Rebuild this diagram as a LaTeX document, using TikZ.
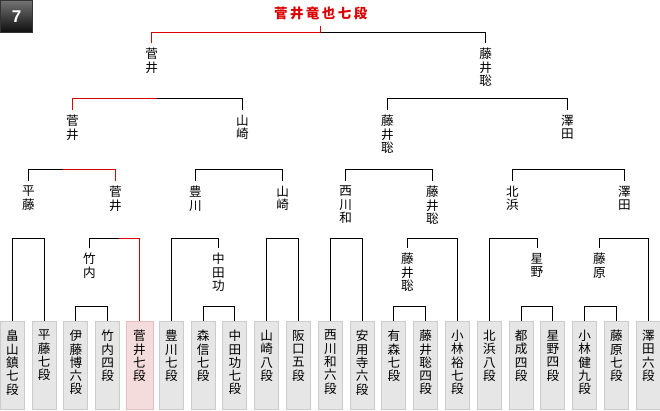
\documentclass[tikz,border=0pt]{standalone}
\usepackage{fontspec}
\newfontfamily\jpfont{Noto Sans CJK JP}
\newfontfamily\badgefont{Liberation Sans}
\usetikzlibrary{positioning, calc}

\definecolor{winred}{HTML}{DD0000}
\definecolor{boxgray}{HTML}{E6E6E6}
\definecolor{boxedge}{HTML}{CCCCCC}
\definecolor{winfill}{HTML}{F5DCDC}
\definecolor{winedge}{HTML}{E6BDBD}

\tikzset{
  bracket/.style={draw=black, line width=1pt},
  winpath/.style={draw=winred, line width=1pt},
  player/.style={draw=boxedge, fill=boxgray, line width=1pt, minimum width=24pt,
    minimum height=87.5pt, anchor=north, inner sep=0pt},
  winbox/.style={player, draw=winedge, fill=winfill, minimum width=27pt},
  vtext/.style={font=\jpfont\fontsize{12.6}{13.3}\selectfont, align=center,
    inner sep=0pt, anchor=north},
  lbl/.style={vtext, inner ysep=5pt},
  champ/.style={font=\jpfont\bfseries\fontsize{13.5}{14}\selectfont, text=winred,
    inner xsep=0pt, inner ysep=6pt},
  badge/.style={draw=black!80, line width=1pt, top color=black!55, bottom color=black!95,
    minimum size=32pt, inner sep=0pt, text=white,
    font=\badgefont\bfseries\fontsize{17}{17}\selectfont}
}

\begin{document}
\begin{tikzpicture}[x=1pt, y=-1pt]
  % Define dimensions
  \def\boxtop{321}
  \def\pitch{31.8}
  \useasboundingbox (0,0) rectangle (660,410);
  % Levels of the brackets
  \coordinate (lvA) at (0,306.3);
  \coordinate (lvB) at (0,238.3);
  \coordinate (lvC) at (0,169.3);
  \coordinate (lvD) at (0,98.3);
  \coordinate (lvE) at (0,32.3);

  % Round badge and winner
  \node[badge] (round) at (16.5,16.5) {7};
  \node[champ] (champ) at (320.7,13.5) {\addfontfeature{LetterSpace=18}菅井竜也七段};

  % Players at the bottom
  \foreach \nm/\sty [count=\i from 0] in {
      {畠\\山\\鎮\\七\\段}/player, {平\\藤\\七\\段}/player, {伊\\藤\\博\\六\\段}/player,
      {竹\\内\\四\\段}/player, {菅\\井\\七\\段}/winbox, {豊\\川\\七\\段}/player,
      {森\\信\\七\\段}/player, {中\\田\\功\\七\\段}/player, {山\\崎\\八\\段}/player,
      {阪\\口\\五\\段}/player, {西\\川\\和\\六\\段}/player, {安\\用\\寺\\六\\段}/player,
      {有\\森\\七\\段}/player, {藤\\井\\聡\\四\\段}/player, {小\\林\\裕\\七\\段}/player,
      {北\\浜\\八\\段}/player, {都\\成\\四\\段}/player, {星\\野\\四\\段}/player,
      {小\\林\\健\\九\\段}/player, {藤\\原\\七\\段}/player, {澤\\田\\六\\段}/player}
    {
      \node[\sty] (p\i) at ({12.3+\pitch*\i},\boxtop) {};
      \node[vtext] (t\i) at ([yshift=-9pt]p\i.north) {\nm};
    }

  % Winners of each round
  \foreach \n/\x/\y/\txt in {
      wA1/89.3/248/{竹\\内}, wA2/218.3/248/{中\\田\\功}, wA3/407.3/248/{藤\\井\\聡},
      wA4/537/248/{星\\野}, wA5/599.3/248/{藤\\原},
      wB1/28.3/181/{平\\藤}, wB2/115.3/181/{菅\\井}, wB3/195.3/181/{豊\\川},
      wB4/282.7/181/{山\\崎}, wB5/345.7/181/{西\\川\\和}, wB6/432.3/181/{藤\\井\\聡},
      wB7/512.3/181/{北\\浜}, wB8/624.3/181/{澤\\田},
      wC1/72.3/110/{菅\\井}, wC2/242.3/110/{山\\崎}, wC3/387.3/110/{藤\\井\\聡},
      wC4/567.3/110/{澤\\田},
      wD1/151.7/43/{菅\\井}, wD2/485.7/43/{藤\\井\\聡}}
    \node[lbl] (\n) at (\x,\y) {\txt};

  % Brackets
  \foreach \l/\r/\lv in {
      p2/p3/lvA, p6/p7/lvA, p12/p13/lvA, p16/p17/lvA, p18/p19/lvA,
      p0/p1/lvB, wA1/p4/lvB, p5/wA2/lvB, p8/p9/lvB, p10/p11/lvB,
      wA3/p14/lvB, p15/wA4/lvB, wA5/p20/lvB,
      wB1/wB2/lvC, wB3/wB4/lvC, wB5/wB6/lvC, wB7/wB8/lvC,
      wC1/wC2/lvD, wC3/wC4/lvD, wD1/wD2/lvE}
    \draw[bracket] (\l.north) |- (\r.north |- \lv) -- (\r.north);

  % Path of the winner
  \draw[winpath] (champ.south) -- (champ.south |- lvE);
  \draw[winpath] (wD1.north) |- (champ.south |- lvE);
  \draw[winpath] (wC1.north) |- ($(wC1.north |- lvD)!0.5!(wC2.north |- lvD)$);
  \draw[winpath] (wB2.north) |- ($(wB1.north |- lvC)!0.4!(wB2.north |- lvC)$);
  \draw[winpath] (p4.north) |- ($(wA1.north |- lvB)!0.6!(p4.north |- lvB)$);
\end{tikzpicture}
\end{document}
